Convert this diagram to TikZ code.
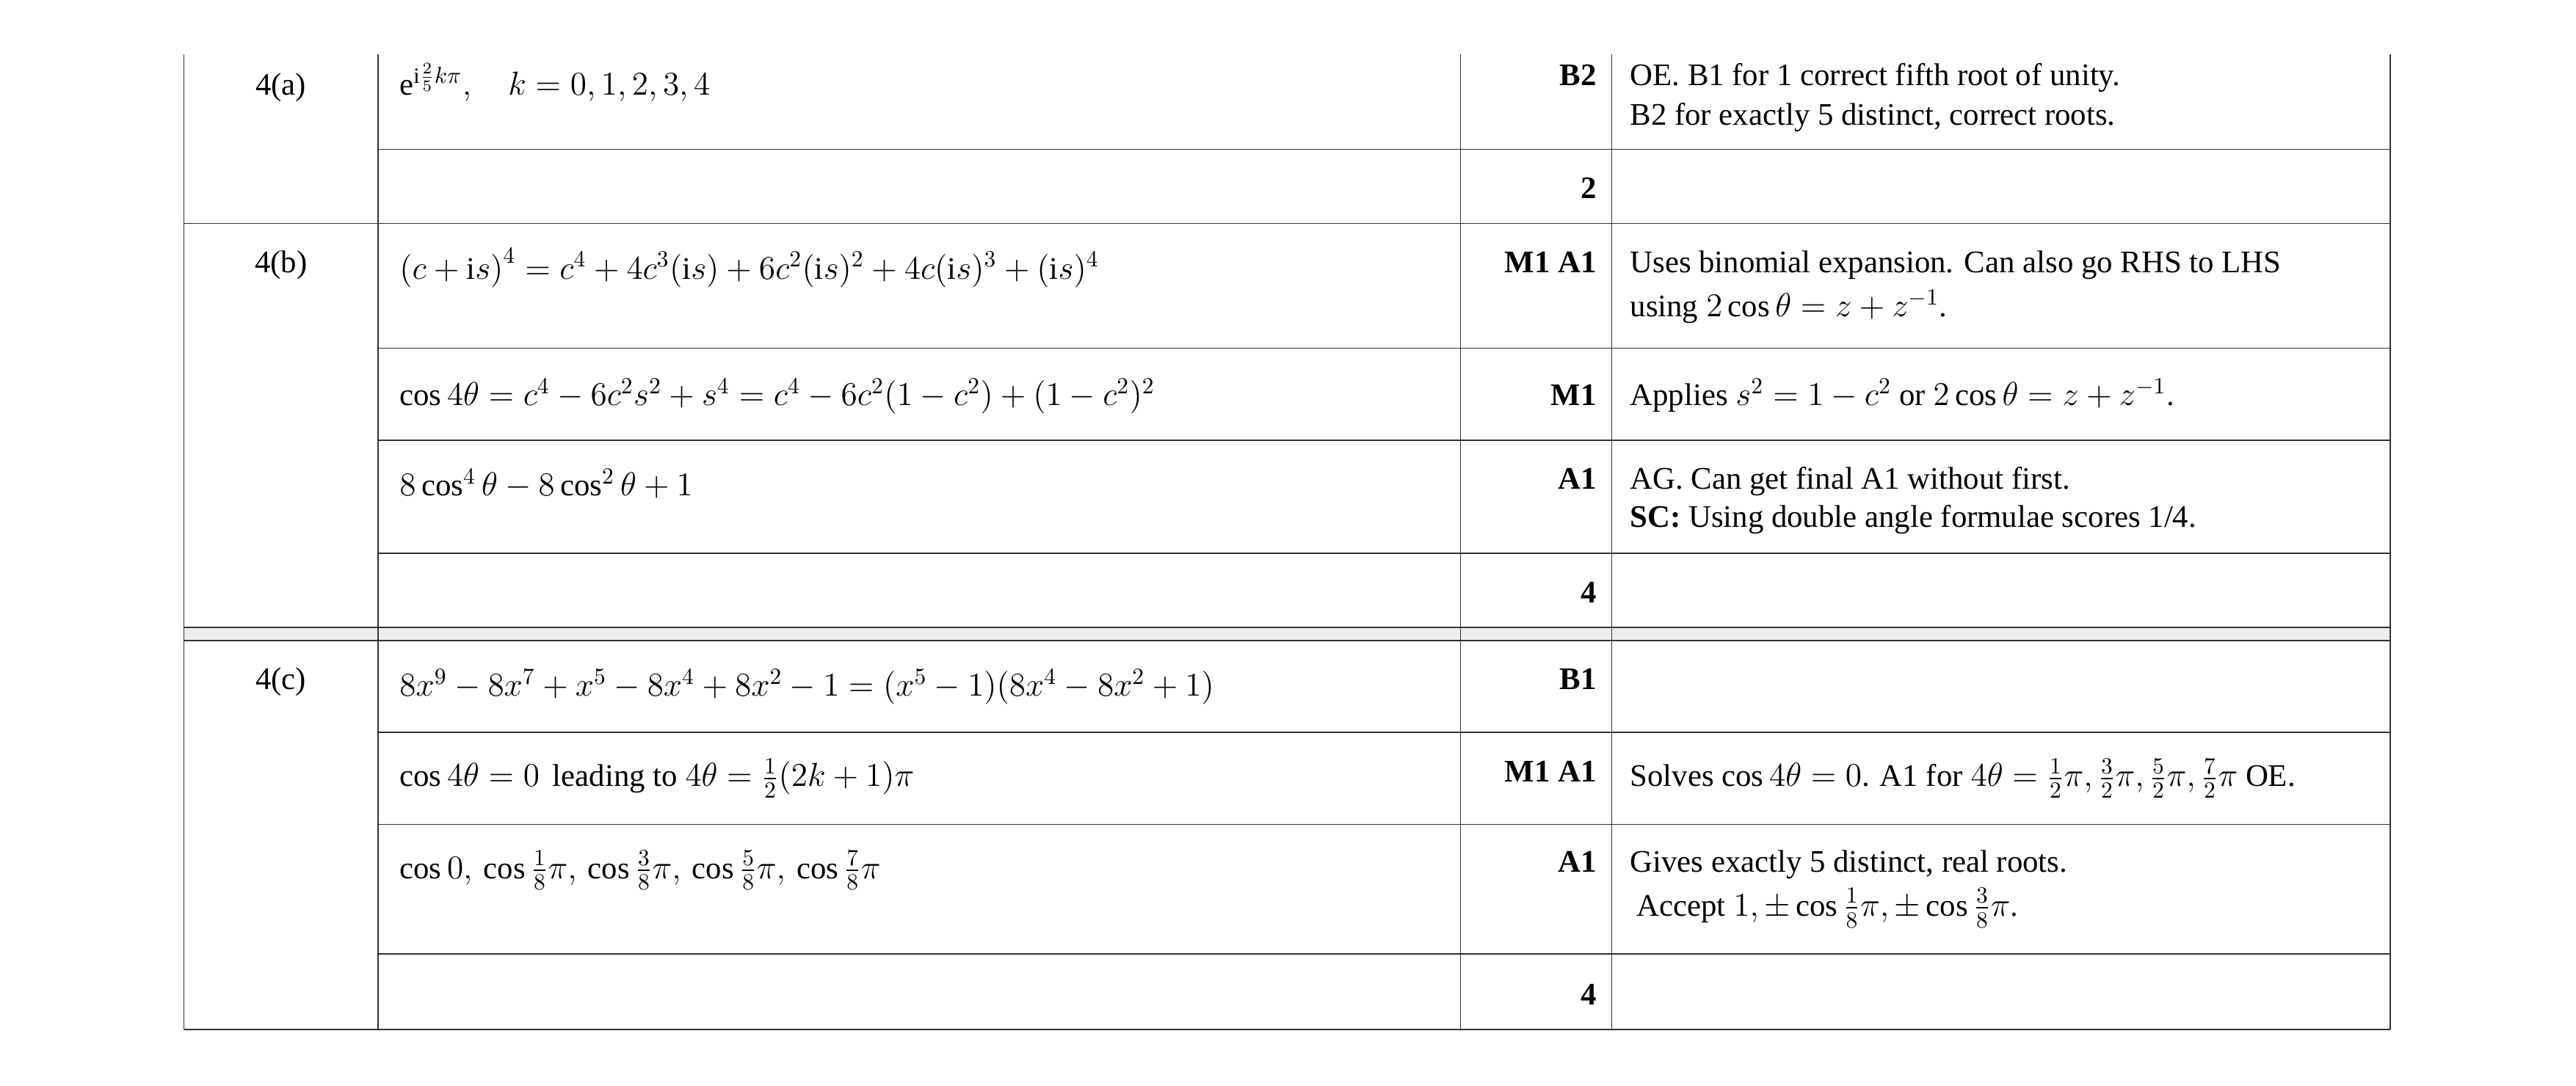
\documentclass[tikz,border=0pt]{standalone}
\usepackage{fontspec}
\usepackage{amsmath}
\setmainfont{Liberation Serif}
\tikzset{
  cell/.style={anchor=base west,inner sep=0pt,font=\fontsize{13.6}{17}\selectfont},
  score/.style={anchor=base east,inner sep=0pt,font=\fontsize{13.6}{17}\selectfont\bfseries},
  part/.style={anchor=base,inner sep=0pt,font=\fontsize{13.6}{17}\selectfont},
  rule/.style={line width=0.5pt,black!80}
}
\begin{document}
\begin{tikzpicture}[x=0.025cm,y=-0.025cm]
  \useasboundingbox (0,0) rectangle (1568,661);
  % grey band between parts b and c
  \fill[black!7] (112,382) rectangle (1455,390);
  % vertical rules
  \foreach \x in {112,230,889,981,1455}
    \draw[rule] (\x,33) -- (\x,627);
  % full rules
  \foreach \y in {136,382,390,627}
    \draw[rule] (112,\y) -- (1455,\y);
  % inner rules
  \foreach \y in {91,212,268,337,446,502,581}
    \draw[rule] (230,\y) -- (1455,\y);

  % part (a)
  \node[part] (pa) at (171,58) {4(a)};
  \node[cell] (a1) at (243,58) {$\mathrm{e}^{\mathrm{i}\frac{2}{5}k\pi},\quad k=0,1,2,3,4$};
  \node[score] (ma1) at (972,52) {B2};
  \node[cell] (ca1) at (992,52) {OE. B1 for 1 correct fifth root of unity.};
  \node[cell] (ca2) at (992,76) {B2 for exactly 5 distinct, correct roots.};
  \node[score] (ta) at (972,121) {2};

  % part (b)
  \node[part] (pb) at (171,166) {4(b)};
  \node[cell] (b1) at (243,170) {$\left(c+\mathrm{i}s\right)^4=c^4+4c^3(\mathrm{i}s)+6c^2(\mathrm{i}s)^2+4c(\mathrm{i}s)^3+(\mathrm{i}s)^4$};
  \node[score] (mb1) at (972,166) {M1 A1};
  \node[cell] (cb1) at (992,166) {Uses binomial expansion. Can also go RHS to LHS};
  \node[cell] (cb2) at (992,193) {using $2\cos\theta=z+z^{-1}$.};
  \node[cell] (b2) at (243,247) {$\cos4\theta=c^4-6c^2s^2+s^4=c^4-6c^2(1-c^2)+(1-c^2)^2$};
  \node[score] (mb2) at (972,247) {M1};
  \node[cell] (cb3) at (992,247) {Applies $s^2=1-c^2$ or $2\cos\theta=z+z^{-1}$.};
  \node[cell] (b3) at (243,302) {$8\cos^4\theta-8\cos^2\theta+1$};
  \node[score] (mb3) at (972,298) {A1};
  \node[cell] (cb4) at (992,298) {AG. Can get final A1 without first.};
  \node[cell] (cb5) at (992,321) {\textbf{SC:} Using double angle formulae scores 1/4.};
  \node[score] (tb) at (972,367) {4};

  % part (c)
  \node[part] (pc) at (171,420) {4(c)};
  \node[cell] (c1) at (243,424) {$8x^9-8x^7+x^5-8x^4+8x^2-1=(x^5-1)(8x^4-8x^2+1)$};
  \node[score] (mc1) at (972,420) {B1};
  \node[cell] (c2) at (243,479) {$\cos4\theta=0$\, leading to $4\theta=\frac{1}{2}(2k+1)\pi$};
  \node[score] (mc2) at (972,476) {M1 A1};
  \node[cell] (cc1) at (992,479) {Solves $\cos4\theta=0$. A1 for $4\theta=\frac12\pi,\frac32\pi,\frac52\pi,\frac72\pi$ OE.};
  \node[cell] (c3) at (243,535) {$\cos0,\,\cos\frac18\pi,\,\cos\frac38\pi,\,\cos\frac58\pi,\,\cos\frac78\pi$};
  \node[score] (mc3) at (972,531) {A1};
  \node[cell] (cc2) at (992,531) {Gives exactly 5 distinct, real roots.};
  \node[cell] (cc3) at (996,558) {Accept $1,\pm\cos\frac18\pi,\pm\cos\frac38\pi$.};
  \node[score] (tc) at (972,612) {4};
\end{tikzpicture}
\end{document}
